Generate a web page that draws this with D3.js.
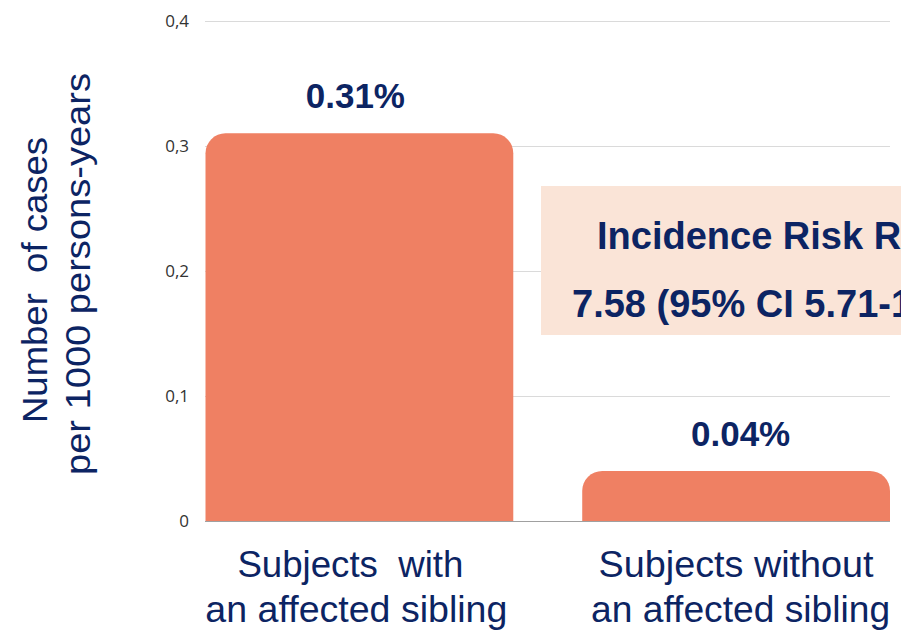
<!DOCTYPE html>
<html>
<head>
<meta charset="utf-8">
<script src="https://cdn.jsdelivr.net/npm/d3@7"></script>
<style>
  html, body { margin: 0; padding: 0; background: #ffffff; }
  svg { display: block; }
  text { white-space: pre; }
</style>
</head>
<body>
<svg id="chart" width="901" height="632"></svg>
<script>
// ---- data ----
const categories = ["with", "without"];
const categoryLines = [["Subjects  with", "an affected sibling"], ["Subjects without", "an affected sibling"]];
const values = [0.31, 0.04];
const valueLabels = ["0.31%", "0.04%"];
const yTicks = [0, 0.1, 0.2, 0.3, 0.4];
const yTickLabels = ["0", "0,1", "0,2", "0,3", "0,4"];
const yTitleLines = ["Number  of cases", "per 1000 persons-years"];
const boxLines = ["Incidence Risk Ratio", "7.58 (95% CI 5.71-10.06)"];

// ---- styles ----
const navy = "#0c2463";
const barColor = "#ef8063";
const boxColor = "#fae4d7";
const sans = "'Liberation Sans', Arial, Helvetica, sans-serif";

const svg = d3.select("#chart");

const x = d3.scaleBand().domain(categories).range([205.5, 890]).paddingInner(0.183).paddingOuter(0);
const y = d3.scaleLinear().domain([0, 0.4]).range([521, 20.7]);

// gridlines
svg.append("g").selectAll("line").data(yTicks).join("line")
  .attr("x1", 205).attr("x2", 890)
  .attr("y1", d => Math.round(y(d)) + 0.5).attr("y2", d => Math.round(y(d)) + 0.5)
  .attr("stroke", d => d === 0 ? "#a0a0a0" : "#dadada")
  .attr("stroke-width", 1);

// y tick labels
svg.append("g").selectAll("text").data(yTicks).join("text")
  .attr("x", 189).attr("y", d => y(d))
  .attr("dy", "0.36em")
  .attr("text-anchor", "end")
  .attr("font-family", "'Open Sans', sans-serif")
  .attr("font-size", 17)
  .attr("fill", "#333333")
  .text((d, i) => yTickLabels[i]);

// bars with rounded top corners
function topRounded(x0, y0, w, h, r) {
  r = Math.min(r, h, w / 2);
  return `M${x0},${y0 + h}V${y0 + r}A${r},${r} 0 0 1 ${x0 + r},${y0}H${x0 + w - r}A${r},${r} 0 0 1 ${x0 + w},${y0 + r}V${y0 + h}Z`;
}
svg.append("g").selectAll("path").data(values).join("path")
  .attr("d", (d, i) => topRounded(x(categories[i]), y(d), x.bandwidth(), y(0) - y(d), 20))
  .attr("fill", barColor);

// value labels
const labelShift = [-4, 4.5];
svg.append("g").selectAll("text").data(values).join("text")
  .attr("x", (d, i) => x(categories[i]) + x.bandwidth() / 2 + labelShift[i])
  .attr("y", d => y(d) - 25)
  .attr("text-anchor", "middle")
  .attr("font-family", sans)
  .attr("font-weight", "bold")
  .attr("font-size", 35)
  .attr("fill", navy)
  .text((d, i) => valueLabels[i]);

// category labels
const catShift = [[-9, -3], [0, 4.5]];
const catLen = [[226, 302], [275, 299]];
const cat = svg.append("g");
categoryLines.forEach((lines, i) => {
  const cx = x(categories[i]) + x.bandwidth() / 2;
  lines.forEach((t, j) => {
    cat.append("text")
      .attr("x", cx + catShift[i][j]).attr("y", 577 + j * 45)
      .attr("text-anchor", "middle")
      .attr("font-family", sans)
      .attr("font-size", 37)
      .attr("fill", navy)
      .attr("textLength", catLen[i][j])
      .attr("lengthAdjust", "spacingAndGlyphs")
      .text(t);
  });
});

// y axis title
const titleX = [47, 90];
const titleY = [280, 274];
const titleLen = [286, 402];
yTitleLines.forEach((t, j) => {
  svg.append("text")
    .attr("transform", `translate(${titleX[j]},${titleY[j]}) rotate(-90)`)
    .attr("text-anchor", "middle")
    .attr("font-family", sans)
    .attr("font-size", 35)
    .attr("fill", navy)
    .attr("textLength", titleLen[j])
    .attr("lengthAdjust", "spacingAndGlyphs")
    .text(t);
});

// incidence risk box (text runs past the right edge, as in the reference)
const box = svg.append("g");
box.append("rect")
  .attr("x", 541).attr("y", 186).attr("width", 400).attr("height", 149)
  .attr("fill", boxColor);
const boxX = [597, 572];
const boxY = [249, 317];
boxLines.forEach((t, j) => {
  box.append("text")
    .attr("x", boxX[j]).attr("y", boxY[j])
    .attr("font-family", sans)
    .attr("font-weight", "bold")
    .attr("font-size", 38)
    .attr("fill", navy)
    .text(t);
});
</script>
</body>
</html>
